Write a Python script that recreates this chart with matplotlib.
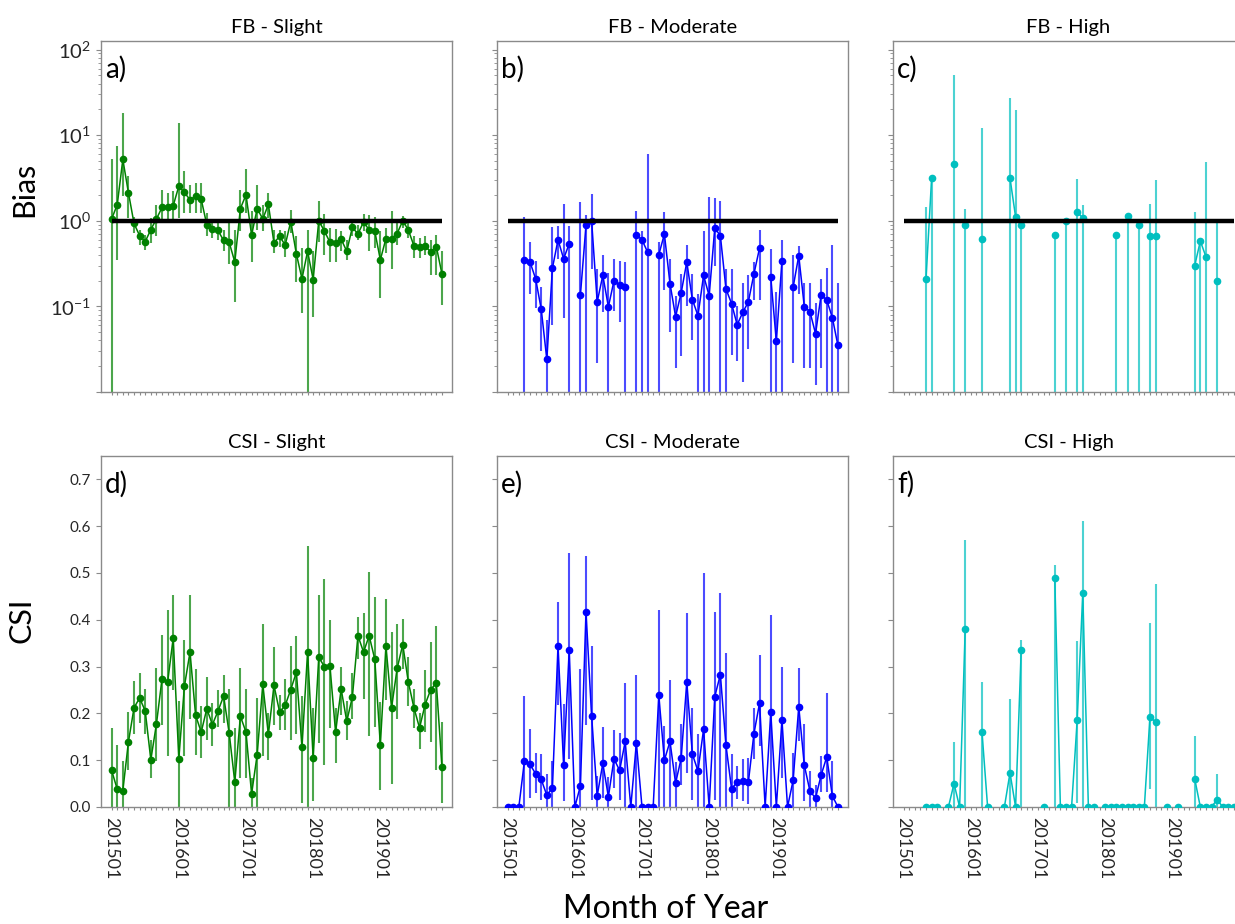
import numpy as np
import matplotlib
matplotlib.use('Agg')
import matplotlib.pyplot as plt
from matplotlib.ticker import FixedLocator, FuncFormatter, LogLocator, NullFormatter

plt.rcParams['font.family'] = ['Lato', 'DejaVu Sans']
plt.rcParams['mathtext.fontset'] = 'custom'
plt.rcParams['mathtext.rm'] = 'Lato'
plt.rcParams['mathtext.it'] = 'Lato:italic'
plt.rcParams['mathtext.bf'] = 'Lato:bold'
plt.rcParams['mathtext.default'] = 'regular'

nan = np.nan

# ---------------- data ----------------
months = np.arange(60)
month_labels = ['201501', '201601', '201701', '201801', '201901']
month_label_pos = [0, 12, 24, 36, 48]

categories = ['Slight', 'Moderate', 'High']
colors = ['green', 'blue', 'c']

fb_slight = [1.05, 1.54, 5.2, 2.13, 0.93, 0.67, 0.57, 0.79, 1.05, 1.43,
             1.45, 1.50, 2.54, 2.14, 1.76, 1.94, 1.78, 0.90, 0.81, 0.77,
             0.59, 0.56, 0.33, 1.39, 2.01, 0.68, 1.39, 1.05, 1.55, 0.55,
             0.66, 0.52, 0.98, 0.41, 0.21, 0.44, 0.206, 1.0, 0.76, 0.56,
             0.55, 0.61, 0.44, 0.84, 0.70, 0.97, 0.78, 0.76, 0.35, 0.62,
             0.62, 0.71, 1.0, 0.78, 0.51, 0.50, 0.51, 0.43, 0.50, 0.24]
fb_slight_hi = [5.26, 7.4, 18.2, 3.3, 1.12, 0.79, 0.69, 1.07, 1.54, 2.31,
                2.11, 2.2, 13.9, 3.8, 2.64, 2.76, 2.76, 1.23, 1.03, 0.98,
                0.79, 0.94, 0.79, 2.31, 4.06, 1.29, 2.59, 1.54, 2.13, 0.79,
                0.79, 0.75, 1.32, 0.66, 0.48, 0.77, 0.44, 1.68, 1.2, 0.82,
                0.81, 0.75, 0.59, 1.0, 0.90, 1.2, 1.17, 1.12, 0.75, 0.82,
                1.29, 0.98, 1.14, 0.94, 0.66, 0.63, 0.66, 0.60, 0.69, 0.44]
fb_slight_lo = [0, 0.35, 1.93, 1.07, 0.72, 0.52, 0.46, 0.55, 0.66, 1.03,
                1.03, 1.03, 1.07, 1.23, 1.23, 1.23, 1.23, 0.66, 0.63, 0.60,
                0.44, 0.31, 0.114, 0.75, 1.23, 0.33, 0.79, 0.75, 1.07, 0.42,
                0.50, 0.38, 0.72, 0.195, 0.083, 0, 0.076, 0.57, 0.40, 0.33,
                0.33, 0.44, 0.35, 0.66, 0.60, 0.75, 0.44, 0.48, 0.125, 0.42,
                0.27, 0.52, 0.82, 0.63, 0.37, 0.37, 0.40, 0.23, 0.23, 0.104]

fb_moderate = [nan, nan, nan, 0.35, 0.33, 0.21, 0.093, 0.024, 0.28, 0.60,
               0.36, 0.54, nan, 0.136, 0.89, 0.99, 0.113, 0.23, 0.099, 0.20,
               0.18, 0.17, nan, 0.69, 0.60, 0.43, nan, 0.40, 0.70, 0.185,
               0.076, 0.144, 0.33, 0.12, 0.078, 0.23, 0.133, 0.82, 0.67, 0.16,
               0.108, 0.061, 0.085, 0.113, 0.24, 0.48, nan, 0.22, 0.039, 0.34,
               nan, 0.168, 0.39, 0.099, 0.087, 0.048, 0.136, 0.119, 0.074, 0.035]
fb_moderate_hi = [nan, nan, nan, 1.12, 0.56, 0.34, 0.167, 0.069, 0.85, 0.87,
                  1.57, 0.87, nan, 1.67, 1.16, 2.05, 0.27, 0.40, 0.245, 0.36,
                  0.34, 0.33, nan, 1.31, 0.75, 6.1, nan, 0.56, 1.27, 0.36,
                  0.133, 0.24, 0.52, 0.24, 0.14, 0.76, 1.9, 1.84, 1.71, 0.27,
                  0.27, 0.10, 0.19, 0.23, 0.33, 0.78, nan, 0.47, 0.146, 0.59,
                  nan, 0.40, 0.51, 0.19, 0.19, 0.11, 0.21, 0.28, 0.52, 0.19]
fb_moderate_lo = [nan, nan, nan, 0, 0.14, 0.097, 0.030, 0, 0.061, 0.36,
                  0.074, 0, nan, 0, 0, 0.27, 0.022, 0.085, 0, 0.089,
                  0.065, 0, nan, 0, 0, 0, nan, 0, 0.157, 0.05,
                  0.019, 0.026, 0.10, 0.04, 0, 0, 0, 0.30, 0, 0,
                  0.027, 0.023, 0.013, 0.032, 0.12, 0.12, nan, 0, 0, 0,
                  nan, 0.022, 0.14, 0.019, 0.019, 0.012, 0.019, 0, 0, 0]

fb_high = [nan, nan, nan, nan, 0.21, 3.15, nan, nan, nan, 4.6,
           nan, 0.89, nan, nan, 0.62, nan, nan, nan, nan, 3.15,
           1.11, 0.89, nan, nan, nan, nan, nan, 0.69, nan, 1.0,
           nan, 1.26, 1.08, nan, nan, nan, nan, nan, 0.68, nan,
           1.14, nan, 0.90, nan, 0.67, 0.67, nan, nan, nan, nan,
           nan, nan, 0.30, 0.58, 0.38, nan, 0.20, nan, nan, nan]
fb_high_hi = [nan, nan, nan, nan, 1.46, 3.15, nan, nan, nan, 50.0,
              nan, 1.39, nan, nan, 12.0, nan, nan, nan, nan, 27.5,
              19.6, 0.89, nan, nan, nan, nan, nan, 0.69, nan, 1.0,
              nan, 3.06, 1.52, nan, nan, nan, nan, nan, 0.68, nan,
              1.14, nan, 0.90, nan, 1.55, 2.98, nan, nan, nan, nan,
              nan, nan, 1.27, 0.58, 4.8, nan, 0.99, nan, nan, nan]
fb_high_lo = [nan if np.isnan(v) else 0 for v in fb_high]

csi_slight = [0.078, 0.038, 0.035, 0.139, 0.212, 0.233, 0.205, 0.101, 0.177, 0.274,
              0.267, 0.361, 0.103, 0.258, 0.331, 0.196, 0.160, 0.210, 0.176, 0.205,
              0.237, 0.158, 0.053, 0.194, 0.160, 0.028, 0.112, 0.262, 0.155, 0.260,
              0.203, 0.217, 0.251, 0.288, 0.128, 0.331, 0.105, 0.320, 0.300, 0.301,
              0.160, 0.252, 0.183, 0.235, 0.366, 0.331, 0.366, 0.316, 0.133, 0.344,
              0.212, 0.296, 0.347, 0.267, 0.212, 0.169, 0.219, 0.251, 0.265, 0.086]
csi_slight_hi = [0.169, 0.133, 0.098, 0.203, 0.269, 0.287, 0.253, 0.144, 0.297, 0.368,
                 0.420, 0.452, 0.226, 0.356, 0.454, 0.294, 0.215, 0.277, 0.222, 0.251,
                 0.281, 0.252, 0.168, 0.297, 0.253, 0.062, 0.233, 0.390, 0.201, 0.341,
                 0.240, 0.274, 0.344, 0.365, 0.237, 0.557, 0.212, 0.453, 0.488, 0.399,
                 0.212, 0.299, 0.227, 0.287, 0.406, 0.415, 0.502, 0.448, 0.225, 0.445,
                 0.373, 0.391, 0.401, 0.320, 0.252, 0.201, 0.292, 0.353, 0.386, 0.181]
csi_slight_lo = [0, 0, 0, 0.080, 0.155, 0.180, 0.155, 0.061, 0.098, 0.176,
                 0.108, 0.251, 0, 0.108, 0.187, 0.112, 0.105, 0.144, 0.130, 0.172,
                 0.180, 0, 0, 0.062, 0.062, 0, 0, 0.110, 0.101, 0.176,
                 0.165, 0.165, 0.144, 0.155, 0.009, 0, 0.012, 0.137, 0.090, 0.169,
                 0.094, 0.197, 0.144, 0.187, 0.317, 0.230, 0.151, 0.172, 0.037, 0.228,
                 0.049, 0.187, 0.294, 0.215, 0.169, 0.125, 0.160, 0.139, 0.080, 0.009]

csi_moderate = [0, 0, 0, 0.098, 0.091, 0.071, 0.059, 0.025, 0.041, 0.344,
                0.089, 0.335, 0, 0.045, 0.417, 0.194, 0.024, 0.093, 0.022, 0.103,
                0.078, 0.140, 0, 0.137, 0, 0, 0, 0.239, 0.100, 0.140,
                0.051, 0.104, 0.267, 0.113, 0.077, 0.166, 0, 0.236, 0.283, 0.132,
                0.039, 0.053, 0.056, 0.053, 0.157, 0.222, 0, 0.202, 0, 0.186,
                0, 0.057, 0.214, 0.089, 0.034, 0.019, 0.068, 0.107, 0.024, 0]
csi_moderate_hi = [0, 0, 0, 0.237, 0.166, 0.116, 0.113, 0.070, 0.098, 0.439,
                   0.221, 0.543, 0, 0.294, 0.536, 0.344, 0.066, 0.170, 0.065, 0.164,
                   0.159, 0.266, 0, 0.281, 0, 0, 0, 0.422, 0.173, 0.271,
                   0.096, 0.177, 0.415, 0.212, 0.155, 0.501, 0, 0.417, 0.458, 0.328,
                   0.113, 0.088, 0.103, 0.105, 0.212, 0.324, 0, 0.410, 0, 0.299,
                   0, 0.116, 0.298, 0.178, 0.077, 0.048, 0.110, 0.244, 0.098, 0]
csi_moderate_lo = [0, 0, 0, 0, 0.020, 0.029, 0.014, 0, 0, 0.219,
                   0.013, 0.102, 0, 0, 0.175, 0.014, 0, 0.020, 0, 0.041,
                   0.014, 0, 0, 0, 0, 0, 0, 0, 0, 0,
                   0, 0.048, 0.072, 0.014, 0, 0, 0, 0.014, 0, 0,
                   0, 0.018, 0.013, 0.006, 0.102, 0.130, 0, 0, 0, 0.063,
                   0, 0, 0.142, 0.013, 0, 0, 0.031, 0.031, 0, 0]

csi_high = [nan, nan, nan, nan, 0, 0, 0, nan, 0, 0.050,
            0, 0.380, nan, nan, 0.160, 0, nan, nan, 0, 0.073,
            0, 0.335, nan, nan, nan, 0, nan, 0.489, 0, 0,
            0, 0.185, 0.457, 0, 0, nan, 0, 0, 0, 0,
            0, 0, 0, 0, 0.193, 0.181, nan, 0, nan, 0,
            nan, nan, 0.060, 0, 0, 0, 0.016, 0, 0, 0]
csi_high_hi = [nan, nan, nan, nan, 0, 0, 0, nan, 0, 0.139,
               0, 0.570, nan, nan, 0.267, 0, nan, nan, 0, 0.231,
               0, 0.357, nan, nan, nan, 0, nan, 0.517, 0, 0,
               0, 0.355, 0.611, 0, 0, nan, 0, 0, 0, 0,
               0, 0, 0, 0, 0.394, 0.476, nan, 0, nan, 0,
               nan, nan, 0.151, 0, 0, 0, 0.071, 0, 0, 0]
csi_high_lo = [nan, nan, nan, nan, 0, 0, 0, nan, 0, 0,
               0, 0, nan, nan, 0, 0, nan, nan, 0, 0,
               0, 0, nan, nan, nan, 0, nan, 0, 0, 0,
               0, 0.009, 0, 0, 0, nan, 0, 0, 0, 0,
               0, 0, 0, 0, 0.039, 0, nan, 0, nan, 0,
               nan, nan, 0, 0, 0, 0, 0, 0, 0, 0]

fb_sets = [(fb_slight, fb_slight_lo, fb_slight_hi),
           (fb_moderate, fb_moderate_lo, fb_moderate_hi),
           (fb_high, fb_high_lo, fb_high_hi)]
csi_sets = [(csi_slight, csi_slight_lo, csi_slight_hi),
            (csi_moderate, csi_moderate_lo, csi_moderate_hi),
            (csi_high, csi_high_lo, csi_high_hi)]
letters_top = ['a)', 'b)', 'c)']
letters_bot = ['d)', 'e)', 'f)']

# ---------------- layout ----------------
W, H = 1235, 924
fig = plt.figure(figsize=(W / 100, H / 100), dpi=100)


def rect(left, top, w, h):
    return [left / W, 1 - (top + h) / H, w / W, h / H]


col_left = [101, 497, 893]
AW, AH = 351, 351
spine_c = '#8a8a8a'
tick_txt = '#262626'


def style(ax):
    for s in ax.spines.values():
        s.set_color(spine_c)
        s.set_linewidth(1.0)
    ax.tick_params(axis='both', which='both', direction='out', color=spine_c,
                   labelcolor=tick_txt)
    ax.tick_params(axis='both', which='major', length=3.5, width=0.8)
    ax.tick_params(axis='both', which='minor', length=2, width=0.6)
    ax.set_xlim(-1.9, 60.8)
    ax.xaxis.set_major_locator(FixedLocator(list(months)))
    lab = {p: l for p, l in zip(month_label_pos, month_labels)}
    ax.xaxis.set_major_formatter(FuncFormatter(lambda v, p: lab.get(int(round(v)), '')))
    ax.tick_params(axis='x', length=2.5)


def draw(ax, vals, lo, hi, color, log=False):
    v = np.array(vals, dtype=float)
    l = np.array(lo, dtype=float)
    h = np.array(hi, dtype=float)
    if log:
        l = np.where(l <= 0, 1e-4, l)
    ok = ~np.isnan(v)
    ax.vlines(months[ok], l[ok], h[ok], color=color, lw=1.5, alpha=0.7, zorder=2)
    ax.plot(months, v, '-o', color=color, lw=1.1, ms=4.5, zorder=3)


# top row: frequency bias
for k in range(3):
    ax = fig.add_axes(rect(col_left[k], 41, AW, AH))
    style(ax)
    ax.set_yscale('log')
    ax.set_ylim(1e-2, 10 ** 2.1)
    v, lo, hi = fb_sets[k]
    draw(ax, v, lo, hi, colors[k], log=True)
    ax.hlines(1.0, months[0], months[-1], color='black', lw=3.2, zorder=4)
    ax.yaxis.set_major_locator(LogLocator(base=10, numticks=10))
    ax.yaxis.set_minor_locator(LogLocator(base=10, subs=np.arange(2, 10) * 1.0, numticks=20))
    ax.yaxis.set_minor_formatter(NullFormatter())
    if k == 0:
        ax.yaxis.set_major_formatter(FuncFormatter(
            lambda val, p: r'$10^{%d}$' % int(round(np.log10(val))) if val >= 0.05 else ''))
        ax.tick_params(axis='y', which='major', labelsize=14.5)
    else:
        ax.tick_params(axis='y', labelleft=False)
    ax.tick_params(axis='x', labelbottom=False)
    ax.set_title('FB - ' + categories[k], fontsize=14.5, pad=6)
    ax.text(0.012, 0.958, letters_top[k], transform=ax.transAxes, fontsize=20,
            va='top', ha='left')

# bottom row: CSI
for k in range(3):
    ax = fig.add_axes(rect(col_left[k], 456, AW, AH))
    style(ax)
    ax.set_ylim(0, 0.75)
    v, lo, hi = csi_sets[k]
    draw(ax, v, lo, hi, colors[k])
    ax.set_yticks(np.arange(0, 0.71, 0.1))
    if k == 0:
        ax.yaxis.set_major_formatter(FuncFormatter(lambda val, p: '%.1f' % val))
        ax.tick_params(axis='y', labelsize=11)
    else:
        ax.tick_params(axis='y', labelleft=False)
    ax.tick_params(axis='x', labelsize=13, labelrotation=-90, pad=5)
    for t in ax.get_xticklabels():
        t.set_ha('center')
        t.set_va('top')
    ax.set_title('CSI - ' + categories[k], fontsize=14.5, pad=6)
    ax.text(0.012, 0.958, letters_bot[k], transform=ax.transAxes, fontsize=20,
            va='top', ha='left')

fig.text(24 / W, 1 - 189 / H, 'Bias', rotation=90, fontsize=22, ha='center', va='center')
fig.text(22 / W, 1 - 620 / H, 'CSI', rotation=90, fontsize=22, ha='center', va='center')
fig.text(666 / W, 1 - 909 / H, 'Month of Year', fontsize=23, ha='center', va='center')

fig.savefig('out.png', dpi=100)
